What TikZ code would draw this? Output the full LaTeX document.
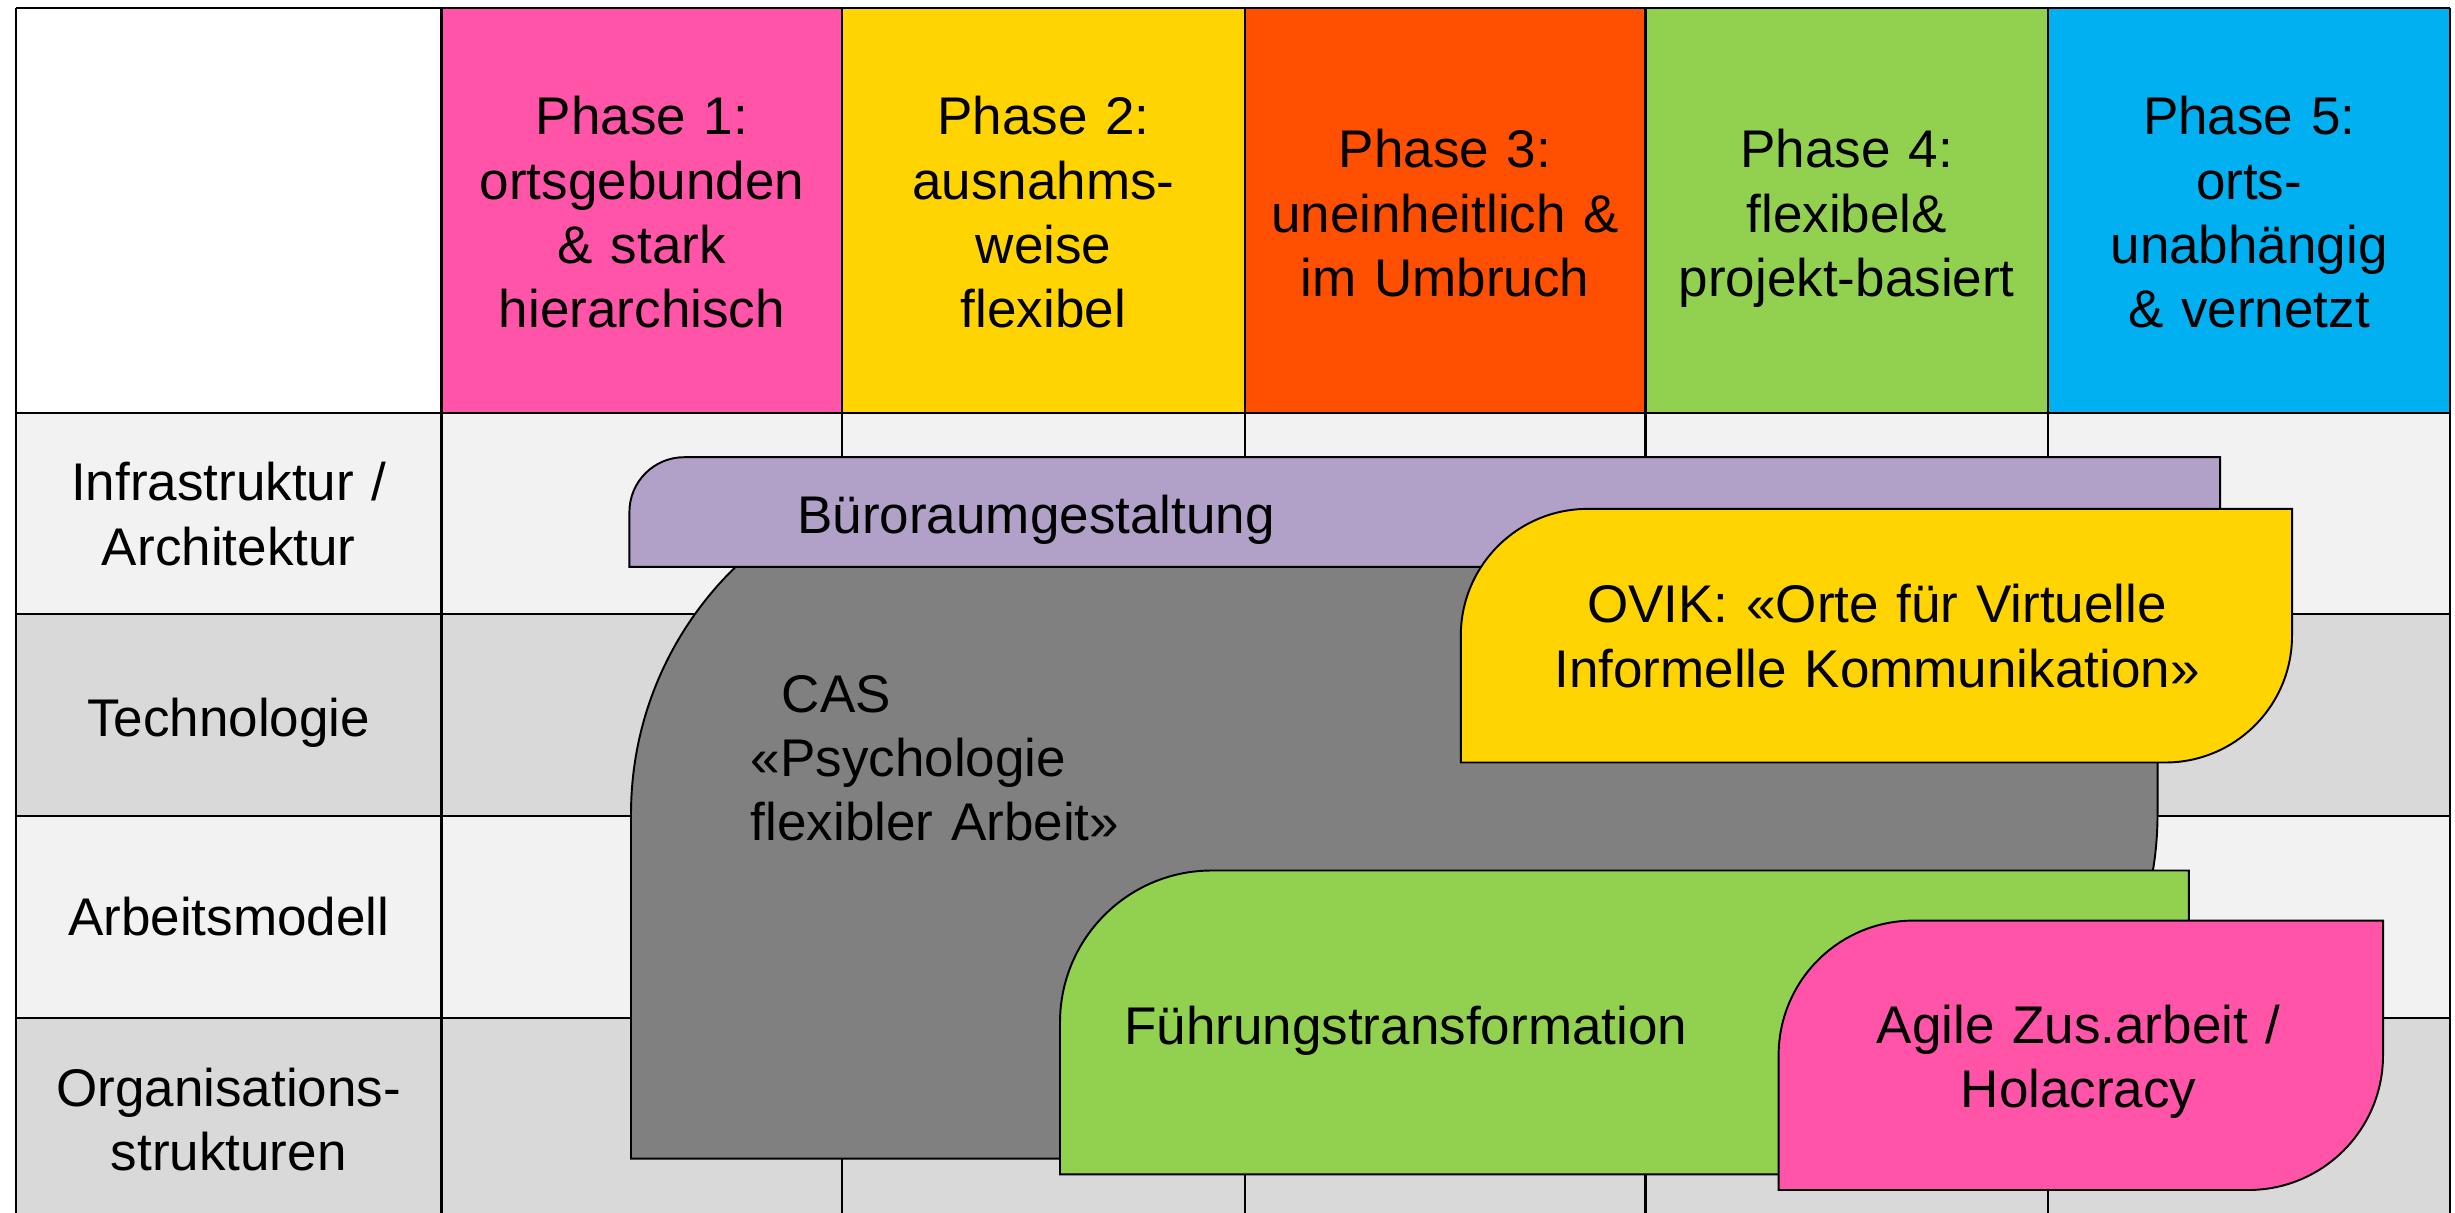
\documentclass[tikz,border=0pt]{standalone}
\usepackage{fontspec}
\setmainfont{Liberation Sans}
\definecolor{phpink}{HTML}{FF54A7}
\definecolor{phyellow}{HTML}{FFD400}
\definecolor{phorange}{HTML}{FF4F00}
\definecolor{phgreen}{HTML}{92D050}
\definecolor{phblue}{HTML}{00B0F0}
\definecolor{lavend}{HTML}{B1A0C7}
\definecolor{casgray}{HTML}{808080}
\definecolor{rowlight}{HTML}{F2F2F2}
\definecolor{rowdark}{HTML}{D9D9D9}
% round-diagonal-corner rectangle: #1 style, #2 x1, #3 y1 (top), #4 x2, #5 y2 (bottom), #6 radius
\newcommand{\rrdiagshape}[6]{%
  \draw[#1] (#2,#5) -- (#2,#3+#6)
    .. controls (#2,#3+0.4477*#6) and (#2+0.4477*#6,#3) .. (#2+#6,#3)
    -- (#4,#3) -- (#4,#5-#6)
    .. controls (#4,#5-0.4477*#6) and (#4-0.4477*#6,#5) .. (#4-#6,#5)
    -- cycle;}
\begin{document}
\begin{tikzpicture}[x=0.01cm,y=-0.01cm,
  gridline/.style={draw=black,line width=0.6pt},
  shp/.style={draw=black,line width=0.55pt},
  txt/.style={font=\fontsize{15.08pt}{18.21pt}\selectfont,inner sep=0pt,text width=4cm,align=center,anchor=base},
  txtl/.style={font=\fontsize{15.08pt}{18.21pt}\selectfont,inner sep=0pt,text width=4cm,align=left,anchor=base west}]
\useasboundingbox (0,0) rectangle (2455,1213);
\clip (0,0) rectangle (2455,1213);
\fill[white] (0,0) rectangle (2455,1213);
% header row
\fill[white]    (16,8) rectangle (441.5,413.3);
\fill[phpink]   (441.5,8) rectangle (842.3,413.3);
\fill[phyellow] (842.3,8) rectangle (1244.7,413.3);
\fill[phorange] (1244.7,8) rectangle (1645.5,413.3);
\fill[phgreen]  (1645.5,8) rectangle (2047.9,413.3);
\fill[phblue]   (2047.9,8) rectangle (2450,413.3);
% body rows
\fill[rowlight] (16,413.3) rectangle (2450,613.8);
\fill[rowdark]  (16,613.8) rectangle (2450,815.7);
\fill[rowlight] (16,815.7) rectangle (2450,1017.7);
\fill[rowdark]  (16,1017.7) rectangle (2450,1225);
% grid lines
\foreach \yy in {8,413.3,613.8,815.7,1017.7}
  \draw[gridline] (16,\yy) -- (2450,\yy);
\foreach \xx in {16,441.5,842.3,1244.7,1645.5,2047.9,2450}
  \draw[gridline] (\xx,8) -- (\xx,1225);
% header texts
\node[txt] (p1) at (641.9,135) {Phase 1:\\ortsgebunden\\\& stark\\hierarchisch};
\node[txt] (p2) at (1043.5,135) {Phase 2:\\ausnahms-\\weise\\flexibel};
\node[txt] (p3) at (1445.1,168) {Phase 3:\\uneinheitlich \&\\im Umbruch};
\node[txt] (p4) at (1846.7,168) {Phase 4:\\flexibel\&\\projekt-basiert};
\node[txt] (p5) at (2249.1,135) {Phase 5:\\orts-\\unabhängig\\\& vernetzt};
% row labels
\node[txt] (r1) at (228.7,501) {Infrastruktur /\\Architektur};
\node[txt] (r2) at (228.7,736) {Technologie};
\node[txt] (r3) at (228.7,935) {Arbeitsmodell};
\node[txt] (r4) at (228.7,1106) {Organisations-\\strukturen};
% shapes
\rrdiagshape{shp,fill=casgray}{631}{469.6}{2157.5}{1158.6}{344.5}
\rrdiagshape{shp,fill=lavend}{629.4}{457.2}{2220}{566.8}{54.8}
\rrdiagshape{shp,fill=phyellow}{1460.8}{508.9}{2292}{762.5}{126.8}
\rrdiagshape{shp,fill=phgreen}{1060}{870.5}{2188.9}{1174.3}{151.9}
\rrdiagshape{shp,fill=phpink}{1778.6}{920.6}{2383}{1190}{134.7}
% shape texts
\node[txt,text width=6cm] (buero) at (1036,534) {Büroraumgestaltung};
\node[txtl] (cas) at (750,712) {\hspace*{0.31cm}CAS\\«Psychologie\\flexibler Arbeit»};
\node[txt,text width=7cm] (ovik) at (1877,623) {OVIK: «Orte für Virtuelle\\Informelle Kommunikation»};
\node[txt,text width=7cm] (fuehr) at (1405.7,1044) {Führungstransformation};
\node[txt,text width=5cm] (agile) at (2078.6,1043) {Agile Zus.arbeit /\\Holacracy};
\end{tikzpicture}
\end{document}
